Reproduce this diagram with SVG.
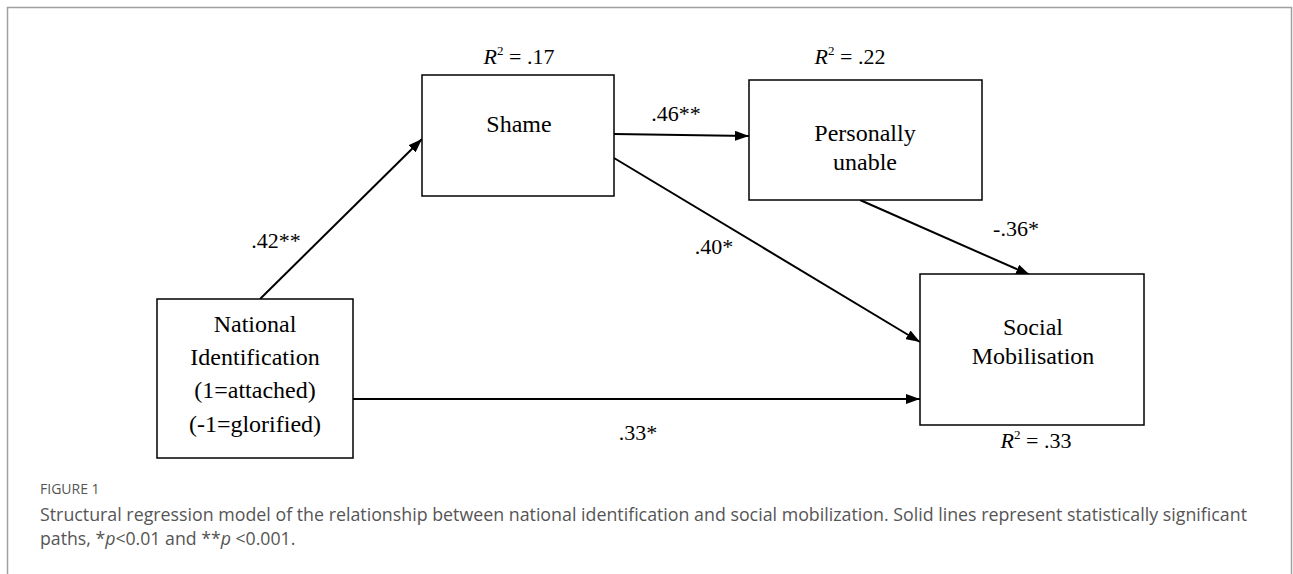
<svg xmlns="http://www.w3.org/2000/svg" width="1293" height="574" viewBox="0 0 1293 574">
<style>
.box{fill:#fff;stroke:#000;stroke-width:1.5}
.lbl{font-family:"Liberation Serif","Times New Roman",serif;font-size:24px;fill:#000;text-anchor:middle}
.coef{font-family:"Liberation Serif","Times New Roman",serif;font-size:22px;fill:#000;text-anchor:middle}
.edge{stroke:#000;stroke-width:2;fill:none;marker-end:url(#ah)}
.cap{font-family:"Open Sans","Noto Sans",sans-serif;fill:#555}
</style>
<defs>
<marker id="ah" viewBox="0 0 14 10" refX="14" refY="5" markerWidth="14" markerHeight="10" markerUnits="userSpaceOnUse" orient="auto">
<path d="M0,0 L14,5 L0,10 z" fill="#000"/>
</marker>
</defs>
<rect width="1293" height="574" fill="#fff"/>
<path d="M7.5,574 V7.5 H1291.5 V574" fill="none" stroke="#a0a0a0" stroke-width="1.5"/>
<g id="connectors">
<line class="edge" x1="260" y1="299" x2="422" y2="139"/>
<line class="edge" x1="614" y1="134" x2="749" y2="136"/>
<line class="edge" x1="614" y1="158" x2="920" y2="342"/>
<line class="edge" x1="860" y1="200" x2="1030" y2="275"/>
<line class="edge" x1="353" y1="399" x2="920" y2="399"/>
<text class="coef" x="276" y="248">.42**</text>
<text class="coef" x="676" y="121">.46**</text>
<text class="coef" x="714" y="254">.40*</text>
<text class="coef" x="1016" y="236">-.36*</text>
<text class="coef" x="638" y="440">.33*</text>
</g>
<g id="shame">
<rect class="box" x="422" y="75" width="192" height="121"/>
<text class="lbl" x="519" y="132">Shame</text>
<text class="coef" x="519" y="64"><tspan font-style="italic">R</tspan><tspan font-size="13" dy="-9">2</tspan><tspan dy="9"> = .17</tspan></text>
</g>
<g id="personally-unable">
<rect class="box" x="749" y="80" width="233" height="120"/>
<text class="lbl" x="865" y="141">Personally</text>
<text class="lbl" x="865" y="170">unable</text>
<text class="coef" x="850" y="64"><tspan font-style="italic">R</tspan><tspan font-size="13" dy="-9">2</tspan><tspan dy="9"> = .22</tspan></text>
</g>
<g id="national-identification">
<rect class="box" x="157" y="299" width="196" height="159"/>
<text class="lbl" x="255" y="332">National</text>
<text class="lbl" x="255" y="365">Identification</text>
<text class="lbl" x="255" y="398">(1=attached)</text>
<text class="lbl" x="255" y="432">(-1=glorified)</text>
</g>
<g id="social-mobilisation">
<rect class="box" x="920" y="274" width="224" height="151"/>
<text class="lbl" x="1033" y="335">Social</text>
<text class="lbl" x="1033" y="364">Mobilisation</text>
<text class="coef" x="1036" y="448"><tspan font-style="italic">R</tspan><tspan font-size="13" dy="-9">2</tspan><tspan dy="9"> = .33</tspan></text>
</g>
<g id="caption">
<text class="cap" x="40" y="494" font-size="14">FIGURE 1</text>
<text class="cap" x="40" y="521" font-size="17.7" textLength="1207" lengthAdjust="spacingAndGlyphs">Structural regression model of the relationship between national identification and social mobilization. Solid lines represent statistically significant</text>
<text class="cap" x="40" y="545" font-size="17.7">paths, *<tspan font-style="italic">p</tspan>&lt;0.01 and **<tspan font-style="italic">p</tspan> &lt;0.001.</text>
</g>
</svg>
